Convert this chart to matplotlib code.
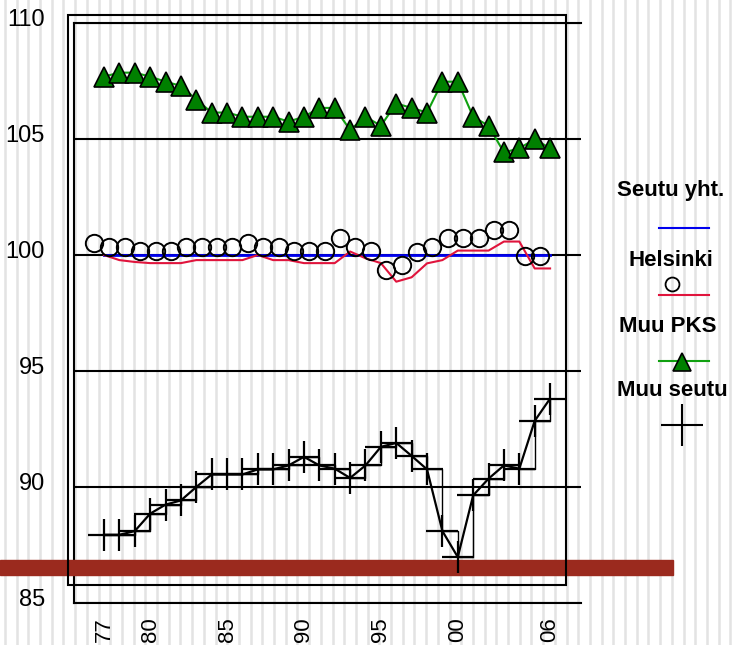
import matplotlib
matplotlib.use("Agg")
import matplotlib.pyplot as plt
import matplotlib.transforms as mtransforms
from matplotlib.lines import Line2D
from matplotlib.patches import Rectangle
import numpy as np

plt.rcParams["font.family"] = ["Liberation Sans", "DejaVu Sans"]

years = list(range(1977, 2007))

seutu_yht = [100.0] * 30

helsinki_line = [100.0, 99.78, 99.7, 99.65, 99.65, 99.65, 99.78, 99.78, 99.78, 99.78,
                 100.0, 99.78, 99.78, 99.65, 99.65, 99.65, 100.15, 99.86, 99.65, 98.85,
                 99.04, 99.64, 99.78, 100.19, 100.19, 100.19, 100.58, 100.58, 99.42, 99.42]

helsinki_pts = [100.53, 100.36, 100.36, 100.17, 100.17, 100.17, 100.36, 100.36, 100.36, 100.36,
                100.53, 100.36, 100.36, 100.17, 100.17, 100.17, 100.75, 100.36, 100.17, 99.35,
                99.57, 100.14, 100.33, 100.72, 100.72, 100.72, 101.08, 101.08, 99.96, 99.96]

muu_pks = [107.69, 107.86, 107.86, 107.69, 107.47, 107.29, 106.70, 106.14, 106.14, 105.96,
           105.96, 105.96, 105.75, 105.96, 106.34, 106.34, 105.39, 105.96, 105.57, 106.53,
           106.34, 106.14, 107.47, 107.47, 105.96, 105.57, 104.42, 104.60, 104.99, 104.60]

muu_seutu = [87.94, 87.94, 88.10, 88.85, 89.24, 89.42, 90.00, 90.54, 90.54, 90.54,
             90.76, 90.76, 90.93, 91.30, 90.93, 90.79, 90.39, 90.93, 91.73, 91.90,
             91.34, 90.76, 88.10, 86.98, 89.64, 90.36, 90.93, 90.79, 92.85, 93.81]

xtick_years = [1977, 1980, 1985, 1990, 1995, 2000, 2006]
xtick_labels = ["77", "80", "85", "90", "95", "00", "06"]
yticks = [85, 90, 95, 100, 105, 110]

W, H = 736, 645
fig = plt.figure(figsize=(W / 100, H / 100), dpi=100)


def fx(px):
    return px / W


def fy(py):
    return 1 - py / H


# striped background
bg = fig.add_axes([0, 0, 1, 1], zorder=-1)
bg.set_xlim(0, W)
bg.set_ylim(H, 0)
for xs in np.arange(4.9, W, 11.7):
    bg.axvline(xs, color="#e3e3e3", lw=1.8)
bg.axis("off")

# outer frame
fig.add_artist(Rectangle((fx(68), fy(585)), fx(566) - fx(68), fy(15) - fy(585),
                         transform=fig.transFigure, fill=False, ec="black", lw=1.5))

ax = fig.add_axes([fx(74), fy(603), fx(581) - fx(74), fy(23) - fy(603)])
ax.set_facecolor("none")
ax.set_xlim(1975.05, 2008.01)
ax.set_ylim(85, 110)
for s in ["left", "top", "bottom"]:
    ax.spines[s].set_linewidth(1.5)
ax.spines["right"].set_visible(False)

ax.set_yticks(yticks)
ax.yaxis.grid(True, color="black", lw=1.5)
ax.set_axisbelow(True)
ax.tick_params(axis="y", length=0, pad=21, labelsize=17)
ax.set_xticks(xtick_years)
ax.set_xticklabels(xtick_labels, rotation=90)
ax.tick_params(axis="x", length=0, pad=10, labelsize=16)
up = mtransforms.ScaledTranslation(0, 5 / 100, fig.dpi_scale_trans)
for lab in ax.get_yticklabels():
    lab.set_transform(lab.get_transform() + up)

ax.plot(years, seutu_yht, color="#0000ee", lw=2, zorder=3)
ax.plot(years, helsinki_line, color="#e0143c", lw=1.5, zorder=3)
circ, = ax.plot(years, helsinki_pts, ls="none", marker="o", ms=12.5,
                mfc="none", mec="black", mew=1.4, zorder=4)
circ.set_transform(ax.transData + mtransforms.ScaledTranslation(-10 / 100, 0, fig.dpi_scale_trans))
ax.plot(years, muu_pks, color="#10a010", lw=1.5, marker="^", ms=14,
        mfc="#008000", mec="black", mew=1.2, zorder=4)
ax.plot(years, muu_seutu, color="black", lw=1.0, drawstyle="steps-post", zorder=4)
ax.plot(years, muu_seutu, color="black", lw=1.6, marker="+", ms=23, mew=1.6, zorder=6)

# red band
band = Rectangle((0, fy(575)), fx(673), fy(560) - fy(575), transform=fig.transFigure,
                 color="#9b2a1e", zorder=5, clip_on=False)
ax.add_artist(band)

# legend
tf = fig.transFigure
lx0, lx1 = fx(659), fx(709)
fig.text(fx(671), fy(190), "Seutu yht.", ha="center", va="center", fontsize=16, fontweight="bold")
fig.add_artist(Line2D([lx0, lx1], [fy(228)] * 2, transform=tf, color="#0000ee", lw=1.5))
fig.text(fx(671), fy(260), "Helsinki", ha="center", va="center", fontsize=16, fontweight="bold")
fig.add_artist(Line2D([fx(672)], [fy(284)], transform=tf, ls="none", marker="o", ms=10,
                      mfc="none", mec="black", mew=1.3))
fig.add_artist(Line2D([lx0, lx1], [fy(295)] * 2, transform=tf, color="#e0143c", lw=1.5))
fig.text(fx(668), fy(327), "Muu PKS", ha="center", va="center", fontsize=16, fontweight="bold")
fig.add_artist(Line2D([lx0, lx1], [fy(361)] * 2, transform=tf, color="#10a010", lw=1.5))
fig.add_artist(Line2D([fx(682)], [fy(362)], transform=tf, ls="none", marker="^", ms=13,
                      mfc="#008000", mec="black", mew=1.2))
fig.text(fx(672), fy(390), "Muu seutu", ha="center", va="center", fontsize=16, fontweight="bold")
fig.add_artist(Line2D([fx(682)], [fy(425)], transform=tf, ls="none", marker="+", ms=30,
                      mec="black", mew=1.5))

fig.savefig("out.png", dpi=100)
